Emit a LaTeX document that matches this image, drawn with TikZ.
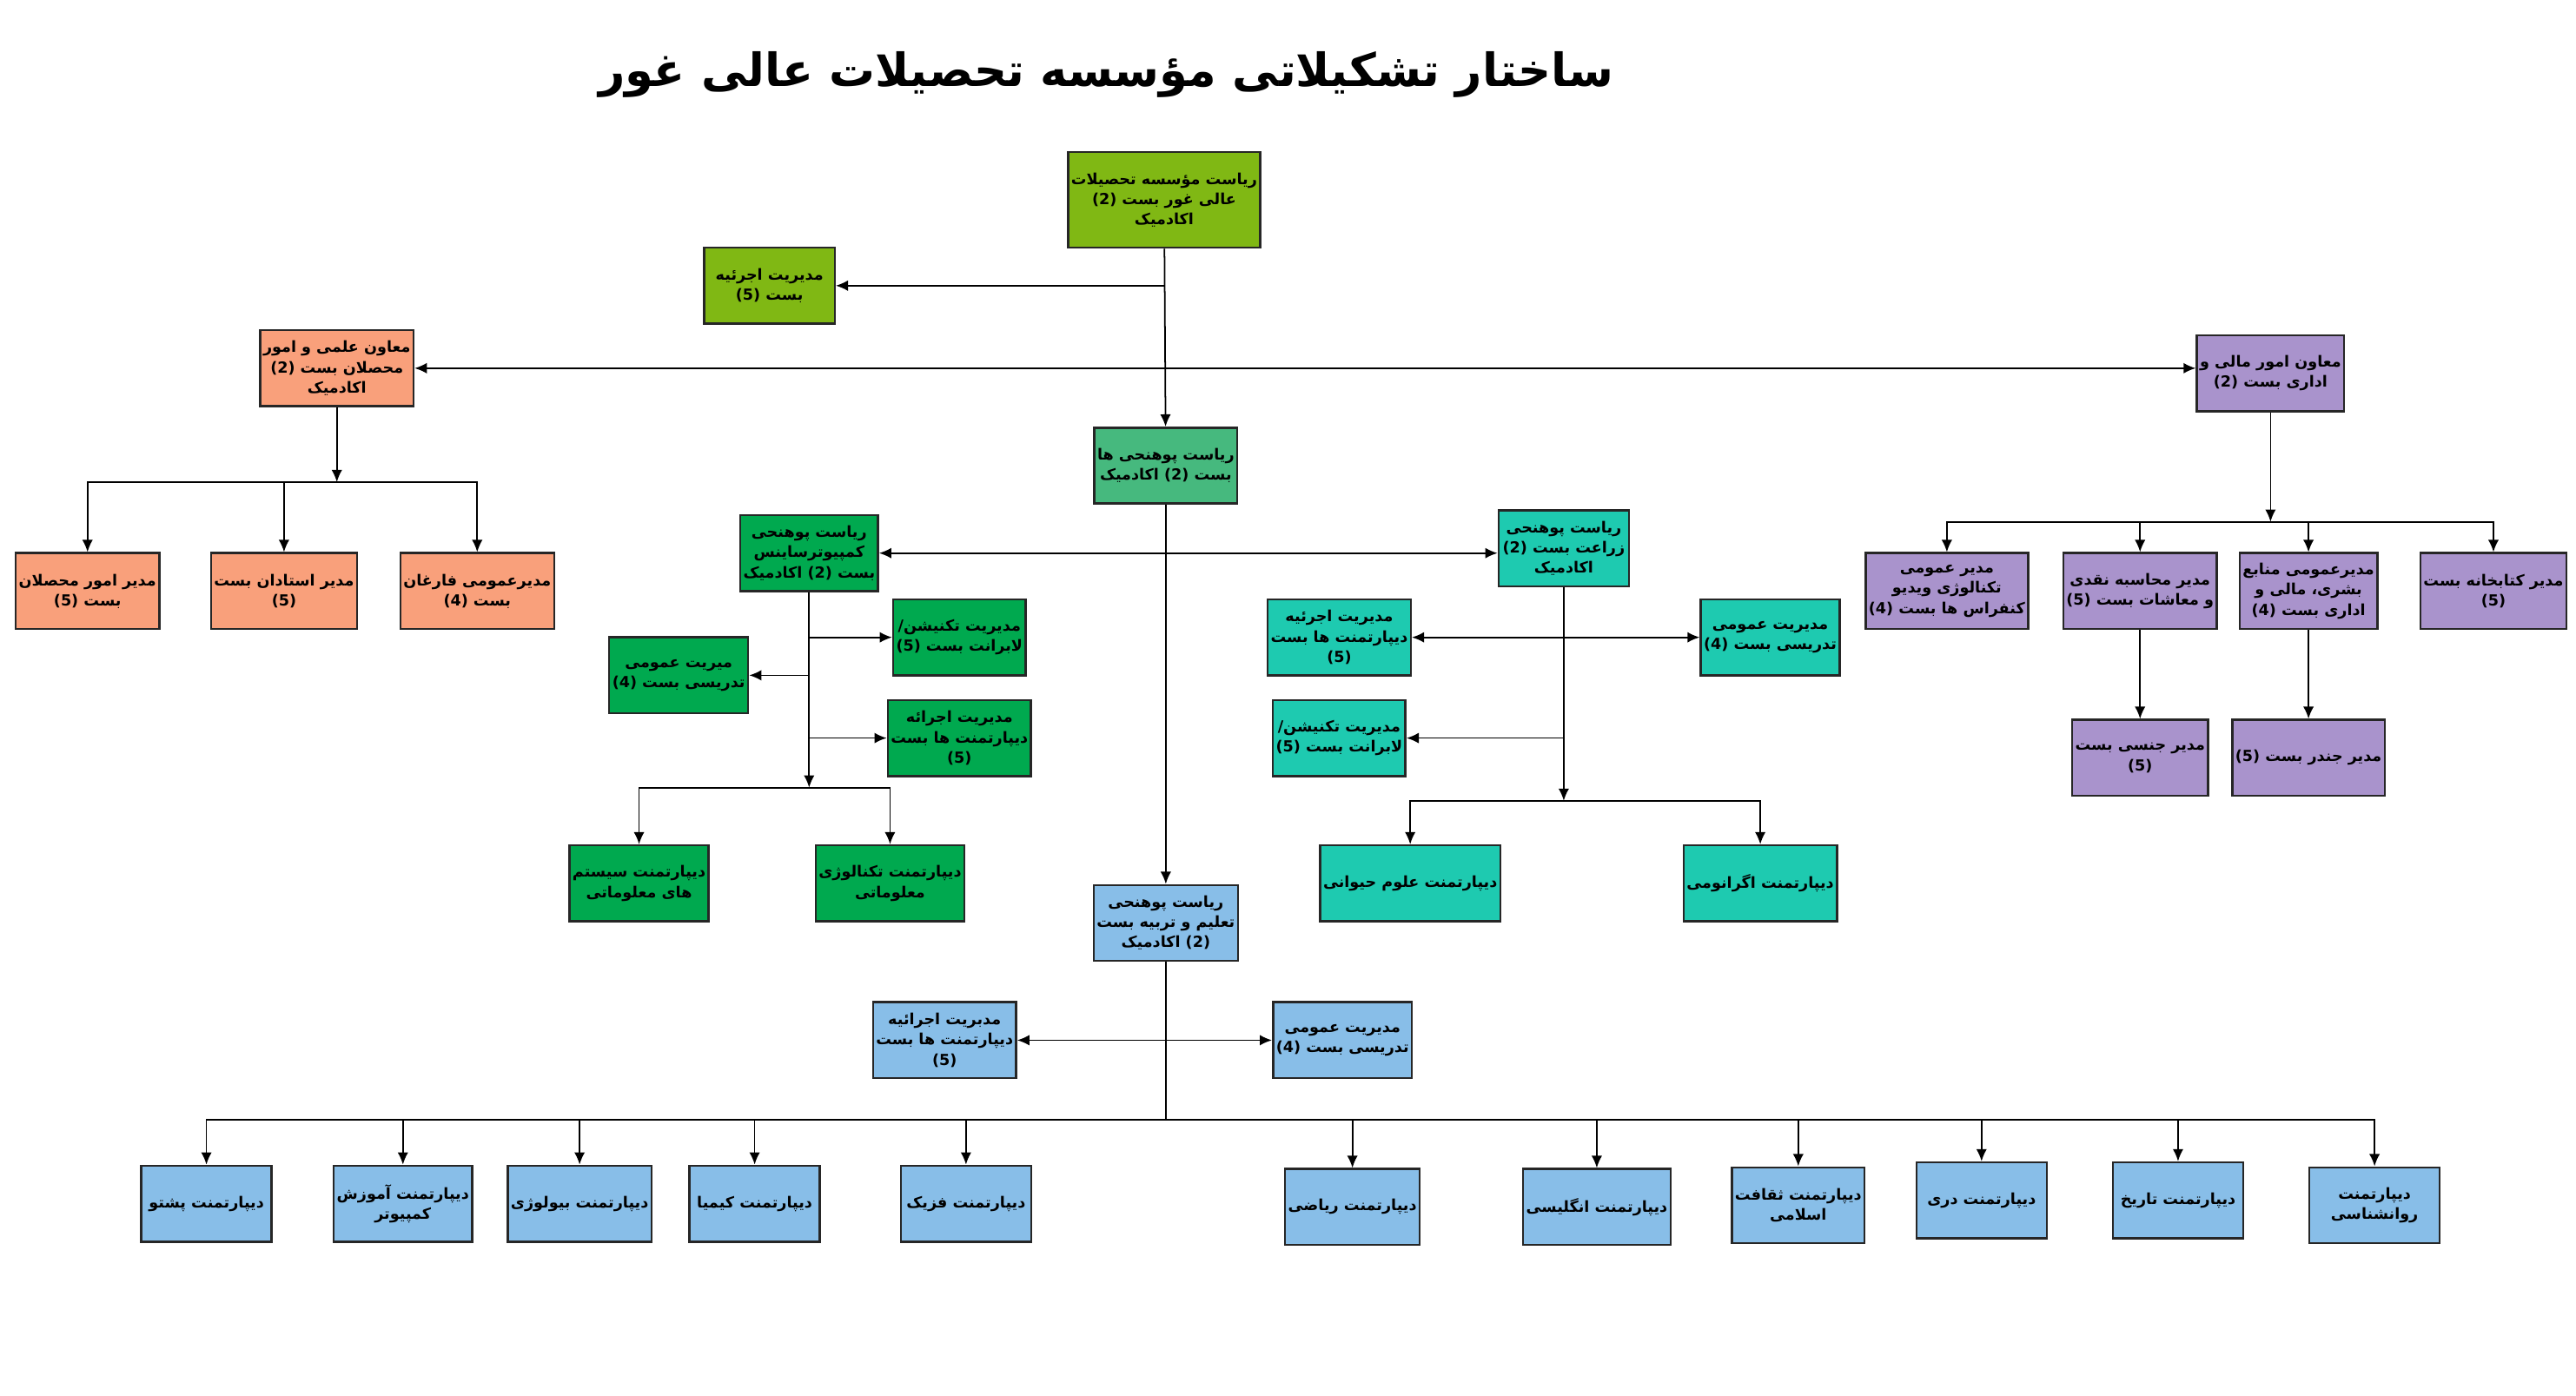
\documentclass[tikz,border=0pt]{standalone}
\usepackage{fontspec}
\usepackage{xcolor}
\usetikzlibrary{arrows.meta}
\newfontfamily\arabicfont[Script=Arabic]{DejaVu Sans}
\TeXXeTstate=1
\newcommand{\fa}[1]{\beginR #1\endR}
\definecolor{olive}{HTML}{80B814}
\definecolor{salmon}{HTML}{F9A07B}
\definecolor{lilac}{HTML}{A993CC}
\definecolor{facgreen}{HTML}{46B97E}
\definecolor{csgreen}{HTML}{00A94F}
\definecolor{teal}{HTML}{1ECAB0}
\definecolor{sky}{HTML}{88BEE8}
\tikzset{
  box/.style={draw=black!85, line width=0.7pt, minimum width=1.5cm, minimum height=0.874cm,
    align=center, inner sep=1pt, font=\arabicfont\bfseries\fontsize{5}{6.6}\selectfont},
  arrow/.style={-{Latex[length=4pt,width=3.5pt]}, line width=0.5pt},
  twoway/.style={{Latex[length=4pt,width=3.5pt]}-{Latex[length=4pt,width=3.5pt]}, line width=0.5pt}
}

\begin{document}
\begin{tikzpicture}[x=0.019cm, y=-0.019cm]
	\useasboundingbox (0,0) rectangle (1560,845);
	\node[font=\arabicfont\bfseries\fontsize{15}{18}\selectfont] (title) at (670,45) {\fa{ساختار تشکیلاتی مؤسسه تحصیلات عالی غور}};
	
	% top
	\node[box, fill=olive, minimum width=1.96cm, minimum height=1.1cm] (top) at (705,121) {\fa{ریاست مؤسسه تحصیلات}\\\fa{عالی غور بست (2)}\\\fa{اکادمیک}};
	\node[box, fill=olive] (admin) at (466,173) {\fa{مدیریت اجرئیه}\\\fa{بست (5)}};
	\node[box, fill=salmon] (lvp) at (204,223) {\fa{معاون علمی و امور}\\\fa{محصلان بست (2)}\\\fa{اکادمیک}};
	\node[box, fill=lilac] (rvp) at (1375,226) {\fa{معاون امور مالی و}\\\fa{اداری بست (2)}};
	\node[box, fill=facgreen] (fac) at (706,282) {\fa{ریاست پوهنحی ها}\\\fa{بست (2) اکادمیک}};
	
	% left branch
	\node[box, fill=salmon] (lc1) at (53,358) {\fa{مدیر امور محصلان}\\\fa{بست (5)}};
	\node[box, fill=salmon] (lc2) at (172,358) {\fa{مدیر استادان بست}\\\fa{(5)}};
	\node[box, fill=salmon] (lc3) at (289,358) {\fa{مدیرعمومی فارغان}\\\fa{بست (4)}};
	
	% right branch
	\node[box, fill=lilac, minimum width=1.65cm] (rc1) at (1179,358) {\fa{مدیر عمومی}\\\fa{تکنالوژی ویدیو}\\\fa{کنفراس ها بست (4)}};
	\node[box, fill=lilac] (rc2) at (1296,358) {\fa{مدیر محاسبه نقدی}\\\fa{و معاشات بست (5)}};
	\node[box, fill=lilac] (rc3) at (1398,358) {\fa{مدیرعمومی منابع}\\\fa{بشری، مالی و}\\\fa{اداری بست (4)}};
	\node[box, fill=lilac] (rc4) at (1510,358) {\fa{مدیر کتابخانه بست}\\\fa{(5)}};
	\node[box, fill=lilac] (g1) at (1296,459) {\fa{مدیر جنسی بست}\\\fa{(5)}};
	\node[box, fill=lilac] (g2) at (1398,459) {\fa{مدیر جندر بست (5)}};
	
	% computer science
	\node[box, fill=csgreen] (cs) at (490,335) {\fa{ریاست پوهنحی}\\\fa{کمپیوترساینس}\\\fa{بست (2) اکادمیک}};
	\node[box, fill=csgreen] (cs1) at (581,386) {\fa{مدیریت تکنیشن/}\\\fa{لابرانت بست (5)}};
	\node[box, fill=csgreen] (cs2) at (581,447) {\fa{مدیریت اجرائه}\\\fa{دیپارتمنت ها بست}\\\fa{(5)}};
	\node[box, fill=csgreen] (cs3) at (411,409) {\fa{میریت عمومی}\\\fa{تدریسی بست (4)}};
	\node[box, fill=csgreen] (csd1) at (387,535) {\fa{دیپارتمنت سیستم}\\\fa{های معلوماتی}};
	\node[box, fill=csgreen] (csd2) at (539,535) {\fa{دیپارتمنت تکنالوژی}\\\fa{معلوماتی}};
	
	% agriculture
	\node[box, fill=teal] (zr) at (947,332) {\fa{ریاست پوهنحی}\\\fa{زراعت بست (2)}\\\fa{اکادمیک}};
	\node[box, fill=teal] (zr1) at (811,386) {\fa{مدیریت اجرئیه}\\\fa{دیپارتمنت ها بست}\\\fa{(5)}};
	\node[box, fill=teal] (zr2) at (1072,386) {\fa{مدیریت عمومی}\\\fa{تدریسی بست (4)}};
	\node[box, fill=teal] (zr3) at (811,447) {\fa{مدیریت تکنیشن/}\\\fa{لابرانت بست (5)}};
	\node[box, fill=teal, minimum width=1.82cm] (zrd1) at (854,535) {\fa{دیپارتمنت علوم حیوانی}};
	\node[box, fill=teal] (zrd2) at (1066,535) {\fa{دیپارتمنت اگرانومی}};
	
	% education
	\node[box, fill=sky] (edu) at (706,559) {\fa{ریاست پوهنحی}\\\fa{تعلیم و تربیه بست}\\\fa{(2) اکادمیک}};
	\node[box, fill=sky] (edu1) at (572,630) {\fa{مدبریت اجرائیه}\\\fa{دیپارتمنت ها بست}\\\fa{(5)}};
	\node[box, fill=sky] (edu2) at (813,630) {\fa{مدیریت عمومی}\\\fa{تدریسی بست (4)}};
	\foreach \n/\x/\y/\t in {d1/125/729/{\fa{دیپارتمنت پشتو}},
	                          d2/244/729/{\fa{دیپارتمنت آموزش}\\\fa{کمپیوتر}},
	                          d3/351/729/{\fa{دیپارتمنت بیولوژی}},
	                          d4/457/729/{\fa{دیپارتمنت کیمیا}},
	                          d5/585/729/{\fa{دیپارتمنت فزیک}},
	                          d6/819/731/{\fa{دیپارتمنت ریاضی}},
	                          d7/967/731/{\fa{دیپارتمنت انگلیسی}},
	                          d8/1089/730/{\fa{دیپارتمنت ثقافت}\\\fa{اسلامی}},
	                          d9/1200/727/{\fa{دیپارتمنت دری}},
	                          d10/1319/727/{\fa{دیپارتمنت تاریخ}},
	                          d11/1438/730/{\fa{دیپارتمنت}\\\fa{روانشناسی}}}
		\node[box, fill=sky] (\n) at (\x,\y) {\t};
	
	% connectors
	\coordinate (lbus) at (204,292);
	\coordinate (rbus) at (1375,316);
	\coordinate (csbus) at (490,477);
	\coordinate (zrbus) at (947,485);
	\coordinate (ebus) at (706,678);
	\draw[arrow] (top) -- (fac);
	\draw[arrow] (top.south |- admin.east) -- (admin.east);
	\draw[twoway] (lvp.east) -- (rvp.west |- lvp.east);
	\draw[arrow] (lvp) -- (lbus);
	\foreach \c in {lc1,lc2,lc3} \draw[arrow] (lbus) -| (\c.north);
	\draw[arrow] (rvp) -- (rbus);
	\foreach \c in {rc1,rc2,rc3,rc4} \draw[arrow] (rbus) -| (\c.north);
	\draw[arrow] (rc2) -- (g1);
	\draw[arrow] (rc3) -- (g2);
	\draw[twoway] (cs.east) -- (zr.west |- cs.east);
	\draw[arrow] (cs) -- (csbus);
	\draw[arrow] (cs.south |- cs1.west) -- (cs1.west);
	\draw[arrow] (cs.south |- cs3.east) -- (cs3.east);
	\draw[arrow] (cs.south |- cs2.west) -- (cs2.west);
	\foreach \c in {csd1,csd2} \draw[arrow] (csbus) -| (\c.north);
	\draw[arrow] (zr) -- (zrbus);
	\draw[twoway] (zr1.east) -- (zr2.west);
	\draw[arrow] (zr.south |- zr3.east) -- (zr3.east);
	\foreach \c in {zrd1,zrd2} \draw[arrow] (zrbus) -| (\c.north);
	\draw[arrow] (fac) -- (edu);
	\draw[twoway] (edu1.east) -- (edu2.west);
	\draw[line width=0.5pt] (edu) -- (ebus);
	\foreach \c in {d1,d2,d3,d4,d5,d6,d7,d8,d9,d10,d11} \draw[arrow] (ebus) -| (\c.north);
\end{tikzpicture}
\end{document}
